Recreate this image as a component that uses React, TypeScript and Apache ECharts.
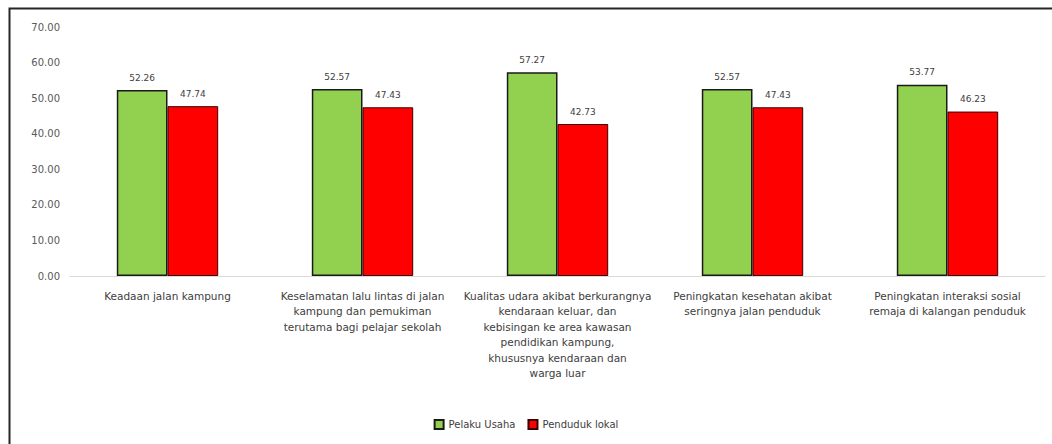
import React, { useEffect, useRef } from "react";
import * as echarts from "echarts";

const categories = [
  "Keadaan jalan kampung",
  "Keselamatan lalu lintas di jalan\nkampung dan pemukiman\nterutama bagi pelajar sekolah",
  "Kualitas udara akibat berkurangnya\nkendaraan keluar, dan\nkebisingan ke area kawasan\npendidikan kampung,\nkhususnya kendaraan dan\nwarga luar",
  "Peningkatan kesehatan akibat\nseringnya jalan penduduk",
  "Peningkatan interaksi sosial\nremaja di kalangan penduduk",
];
const seriesNames = ["Pelaku Usaha", "Penduduk lokal"];
const greenValues = [52.26, 52.57, 57.27, 52.57, 53.77];
const redValues = [47.74, 47.43, 42.73, 47.43, 46.23];
const yTicks = { min: 0, max: 70, interval: 10 };

export default function App() {
  const ref = useRef<HTMLDivElement>(null);
  useEffect(() => {
    if (!ref.current) return;
    const chart = echarts.init(ref.current, null, { renderer: "svg" });
    const font = "DejaVu Sans";
    const labelStyle = {
      show: true,
      position: "top",
      distance: 8,
      fontSize: 9,
      color: "#404040",
      fontFamily: font,
      formatter: (p: any) => Number(p.value).toFixed(2),
    };
    chart.setOption({
      animation: false,
      backgroundColor: "#ffffff",
      textStyle: { fontFamily: font },
      grid: { left: 70, right: 7, top: 27, bottom: 168, containLabel: false },
      legend: {
        bottom: 9,
        left: "center",
        itemWidth: 9,
        itemHeight: 9,
        itemGap: 12,
        icon: "rect",
        textStyle: { fontSize: 10, color: "#404040", fontFamily: font },
        data: seriesNames,
      },
      xAxis: {
        type: "category",
        data: categories,
        axisTick: { show: false },
        axisLine: { lineStyle: { color: "#d9d9d9", width: 1 } },
        axisLabel: {
          interval: 0,
          fontSize: 10.5,
          color: "#404040",
          fontFamily: font,
          lineHeight: 15.5,
          margin: 12,
        },
      },
      yAxis: {
        type: "value",
        min: yTicks.min,
        max: yTicks.max,
        interval: yTicks.interval,
        splitLine: { show: false },
        axisLine: { show: false },
        axisTick: { show: false },
        axisLabel: {
          fontSize: 10,
          color: "#595959",
          fontFamily: font,
          margin: 10,
          formatter: (v: number) => v.toFixed(2),
        },
      },
      series: [
        {
          name: seriesNames[0],
          type: "bar",
          data: greenValues,
          barGap: "0%",
          barCategoryGap: "48%",
          itemStyle: { color: "#92d050", borderColor: "#1a1a1a", borderWidth: 1.5 },
          label: labelStyle,
        },
        {
          name: seriesNames[1],
          type: "bar",
          data: redValues,
          itemStyle: { color: "#ff0000", borderColor: "#3a0000", borderWidth: 1 },
          label: labelStyle,
        },
      ],
      graphic: [
        {
          type: "rect",
          shape: { x: 9.5, y: 8.5, width: 1045, height: 445 },
          style: { fill: "none", stroke: "#262626", lineWidth: 2 },
          silent: true,
        },
      ],
    });
    return () => chart.dispose();
  }, []);
  return (
    <div
      ref={ref}
      style={{ position: "fixed", left: 0, top: 0, width: 1052, height: 444 }}
    />
  );
}
